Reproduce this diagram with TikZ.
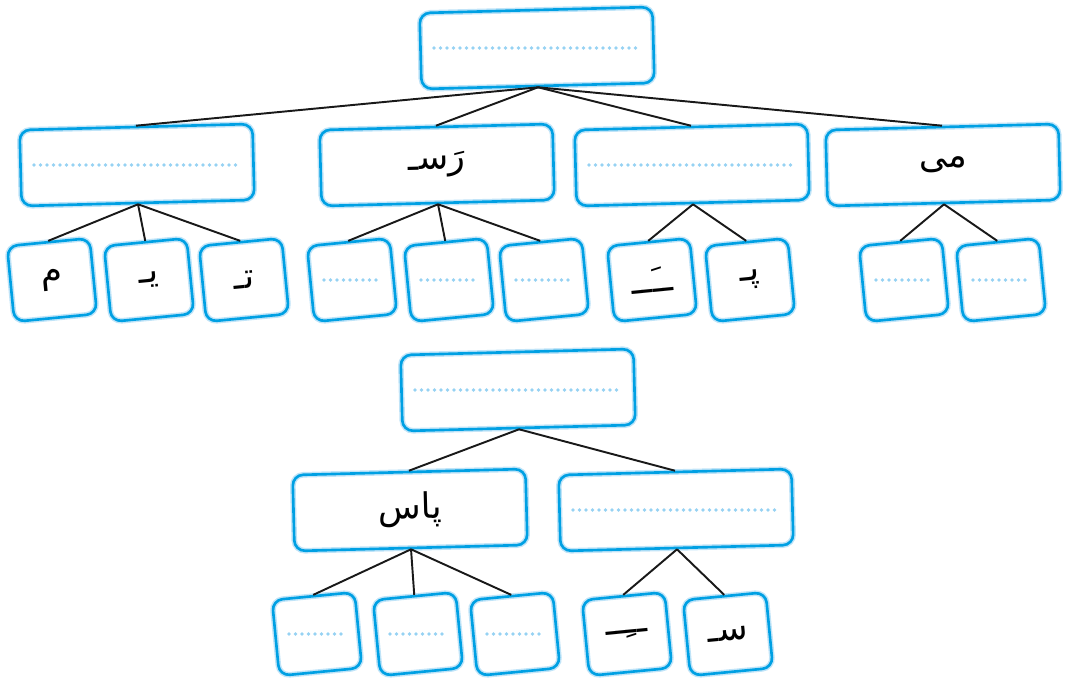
\documentclass[tikz,border=0pt]{standalone}
\usepackage{fontspec}
\usetikzlibrary{calc}
\newfontfamily\arabicfont[Script=Arabic]{DejaVu Sans}
\TeXXeTstate=1
\definecolor{boxblue}{RGB}{0,160,227}
\definecolor{dotblue}{RGB}{150,210,243}
\newcommand{\fa}[1]{\beginR #1\endR}

\begin{document}
\begin{tikzpicture}[x=0.02cm, y=-0.02cm,
	bigbox/.style={draw=boxblue, line width=1.5pt, rounded corners=6pt,
		preaction={draw=dotblue, line width=3.2pt, opacity=.6},
		minimum width=4.66cm, minimum height=1.52cm, rotate=1.5,
		font=\arabicfont\fontsize{20}{24}\selectfont},
	smallbox/.style={bigbox, minimum width=1.66cm, minimum height=1.52cm, rotate=4},
	dotline/.style={draw=dotblue, line width=2.2pt, line cap=round, dash pattern=on 0pt off 3.7pt},
	edge/.style={line width=1.1pt, black!90}]

	\useasboundingbox (0,0) rectangle (1072,682);

	% first tree
	\node[bigbox] (t) at (537,48) {};
	\node[bigbox] (b1) at (137,165) {};
	\node[bigbox] (b2) at (437,165) {\fa{رَسـ}};
	\node[bigbox] (b3) at (692,165) {};
	\node[bigbox] (b4) at (943,165) {\fa{می}};

	\node[smallbox] (s11) at (52,280) {\fa{م}};
	\node[smallbox] (s12) at (149,280) {\fa{یـ}};
	\node[smallbox] (s13) at (244,280) {\fa{تـ}};
	\node[smallbox] (s21) at (352,280) {};
	\node[smallbox] (s22) at (449,280) {};
	\node[smallbox] (s23) at (544,280) {};
	\node[smallbox] (s31) at (652,280) {\fa{ــَــ}};
	\node[smallbox] (s32) at (750,280) {\fa{پـ}};
	\node[smallbox] (s41) at (904,280) {};
	\node[smallbox] (s42) at (1001,280) {};

	\foreach \c in {b1,b2,b3,b4}
		\draw[edge] (t.south) -- (\c.north);
	\foreach \c in {s11,s12,s13}
		\draw[edge] (b1.south) -- (\c.north);
	\foreach \c in {s21,s22,s23}
		\draw[edge] (b2.south) -- (\c.north);
	\foreach \c in {s31,s32}
		\draw[edge] (b3.south) -- (\c.north);
	\foreach \c in {s41,s42}
		\draw[edge] (b4.south) -- (\c.north);

	% second tree
	\node[bigbox] (u) at (518,390) {};
	\node[bigbox] (c1) at (410,510) {\fa{پاس}};
	\node[bigbox] (c2) at (676,510) {};

	\node[smallbox] (r11) at (317,634) {};
	\node[smallbox] (r12) at (418,634) {};
	\node[smallbox] (r13) at (515,634) {};
	\node[smallbox] (r21) at (627,634) {\fa{ــِــ}};
	\node[smallbox] (r22) at (728,634) {\fa{سـ}};

	\foreach \c in {c1,c2}
		\draw[edge] (u.south) -- (\c.north);
	\foreach \c in {r11,r12,r13}
		\draw[edge] (c1.south) -- (\c.north);
	\foreach \c in {r21,r22}
		\draw[edge] (c2.south) -- (\c.north);

	% blanks
	\foreach \n in {t,b1,b3,u,c2}
		\draw[dotline] ($(\n)+(-103,0)$) -- ($(\n)+(103,0)$);
	\foreach \n in {s21,s22,s23,s41,s42,r11,r12,r13}
		\draw[dotline] ($(\n)+(-28,0)$) -- ($(\n)+(28,0)$);

\end{tikzpicture}
\end{document}
